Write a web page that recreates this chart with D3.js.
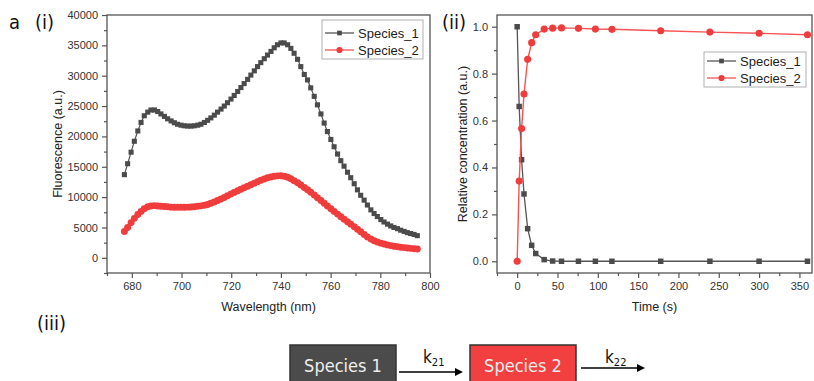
<!DOCTYPE html>
<html><head><meta charset="utf-8">
<script src="https://cdn.jsdelivr.net/npm/d3@7"></script>
<style>
body{margin:0;background:#fff}
svg{display:block;font-family:"Liberation Sans",Arial,sans-serif}
</style></head><body>
<svg id="fig" width="814" height="381"></svg>
<script>
// ---- (i) emission spectra ----
const wavelength = [677.0,678.3,679.7,681.0,682.4,683.7,685.0,686.4,687.7,689.1,690.4,691.7,693.1,694.4,695.8,697.1,698.4,699.8,701.1,702.5,703.8,705.1,706.5,707.8,709.2,710.5,711.8,713.2,714.5,715.9,717.2,718.5,719.9,721.2,722.6,723.9,725.2,726.6,727.9,729.3,730.6,731.9,733.3,734.6,736.0,737.3,738.6,740.0,741.3,742.7,744.0,745.3,746.7,748.0,749.4,750.7,752.0,753.4,754.7,756.1,757.4,758.7,760.1,761.4,762.8,764.1,765.4,766.8,768.1,769.5,770.8,772.1,773.5,774.8,776.2,777.5,778.8,780.2,781.5,782.9,784.2,785.5,786.9,788.2,789.6,790.9,792.2,793.6,794.9];
const species1Spectrum = [13700,15500,17400,19200,20900,22300,23400,24000,24350,24350,24100,23700,23300,22900,22550,22250,22000,21850,21750,21700,21700,21750,21850,22000,22300,22650,23050,23500,24000,24500,25000,25550,26150,26750,27400,28050,28700,29400,30100,30800,31500,32150,32800,33400,34000,34600,35100,35400,35400,35100,34500,33700,32700,31500,30200,29300,28000,26600,25200,23700,22200,20800,19500,18300,17100,16000,15100,14100,13200,12200,11200,10300,9500,8700,7900,7300,6800,6300,5900,5550,5250,5000,4800,4550,4350,4150,4000,3850,3650];
const species2Spectrum = [4350,5000,5800,6500,7150,7650,8100,8400,8550,8600,8550,8500,8450,8400,8350,8330,8320,8320,8330,8350,8380,8420,8480,8560,8660,8800,8980,9200,9430,9680,9950,10230,10500,10780,11050,11300,11550,11800,12050,12300,12550,12780,13000,13180,13330,13430,13500,13520,13450,13280,13020,12700,12350,11980,11600,11200,10800,10350,9900,9450,9000,8550,8100,7650,7200,6780,6350,5950,5550,5120,4700,4300,3850,3450,3100,2820,2600,2420,2270,2130,2010,1900,1820,1750,1680,1620,1560,1500,1450];
const wlTicks = [680,700,720,740,760,780,800];
const wlMinor = [670,690,710,730,750,770,790];
const fluorTicks = [0,5000,10000,15000,20000,25000,30000,35000,40000];
const fluorMinor = [-2500,2500,7500,12500,17500,22500,27500,32500,37500];

// ---- (ii) concentration kinetics ----
const time = [0,2.5,5.5,8.5,13,18,23,33.5,44,55,76,97,117.5,178,239,300,360];
const species1Conc = [1.0,0.66,0.433,0.287,0.139,0.068,0.033,0.007,0.001,0,0,0,0,0,0,0,0];
const species2Conc = [0,0.342,0.566,0.713,0.861,0.932,0.966,0.990,0.994,0.995,0.993,0.990,0.989,0.983,0.977,0.972,0.966];
const timeTicks = [0,50,100,150,200,250,300,350];
const timeMinor = [-25,25,75,125,175,225,275,325];
const concTicks = [0,0.2,0.4,0.6,0.8,1.0];
const concMinor = [0.1,0.3,0.5,0.7,0.9];

const seriesNames = ["Species_1","Species_2"];
const seriesColors = ["#4b4b4b","#f03c3c"];
const lineColors = ["#555555","#f45454"];

// ---- (iii) scheme ----
const schemeBoxes = ["Species 1","Species 2"];
const rateLabels = [["k","21"],["k","22"]];

const svg = d3.select("#fig");
const frameColor = "#555";

function panel(opts) {
  const {x0,x1,y0,y1,xDom,yDom,xt,xm,yt,ym,xFmt,yFmt,xTitle,yTitle,yTitleX} = opts;
  const x = d3.scaleLinear().domain(xDom).range([x0,x1]);
  const y = d3.scaleLinear().domain(yDom).range([y1,y0]);
  const g = svg.append("g");
  const style = sel => {
    sel.select(".domain").remove();
    sel.selectAll("line").attr("stroke",frameColor).attr("stroke-width",1.2);
    sel.selectAll("text").attr("fill","#333").style("font-size","11px");
  };
  g.append("g").attr("transform",`translate(0,${y1})`)
    .call(d3.axisBottom(x).tickValues(xm).tickSize(3).tickFormat("")).call(style);
  g.append("g").attr("transform",`translate(0,${y1})`)
    .call(d3.axisBottom(x).tickValues(xt).tickSize(5).tickPadding(4).tickFormat(xFmt)).call(style);
  g.append("g").attr("transform",`translate(${x0},0)`)
    .call(d3.axisLeft(y).tickValues(ym).tickSize(3).tickFormat("")).call(style);
  g.append("g").attr("transform",`translate(${x0},0)`)
    .call(d3.axisLeft(y).tickValues(yt).tickSize(5).tickPadding(4).tickFormat(yFmt)).call(style);
  g.append("rect").attr("x",x0).attr("y",y0).attr("width",x1-x0).attr("height",y1-y0)
    .attr("fill","none").attr("stroke",frameColor).attr("stroke-width",1.3);
  g.append("text").attr("x",(x0+x1)/2).attr("y",y1+38).attr("text-anchor","middle")
    .attr("fill","#222").style("font-size","12.5px").text(xTitle);
  g.append("text").attr("transform",`translate(${yTitleX},${(y0+y1)/2}) rotate(-90)`)
    .attr("text-anchor","middle").attr("fill","#222").style("font-size","12.5px").text(yTitle);
  return {x,y,g};
}

function series(p, xs, ys, i, lw, size) {
  const pts = xs.map((v,k)=>[v,ys[k]]);
  p.g.append("path").datum(pts)
    .attr("d",d3.line().x(d=>p.x(d[0])).y(d=>p.y(d[1])))
    .attr("fill","none").attr("stroke",lineColors[i]).attr("stroke-width",lw);
  const sym = d3.symbol().type(i===0?d3.symbolSquare:d3.symbolCircle).size(size[i]);
  p.g.append("g").selectAll("path").data(pts).join("path")
    .attr("transform",d=>`translate(${p.x(d[0])},${p.y(d[1])})`)
    .attr("d",sym).attr("fill",seriesColors[i]);
}

function legend(lx, ly, w, h, rowY, size) {
  const g = svg.append("g");
  g.append("rect").attr("x",lx).attr("y",ly).attr("width",w).attr("height",h)
    .attr("fill","#fff").attr("stroke","#b0b0b0").attr("stroke-width",1);
  seriesNames.forEach((name,i)=>{
    const yy = rowY[i];
    g.append("line").attr("x1",lx+3).attr("x2",lx+32).attr("y1",yy).attr("y2",yy)
      .attr("stroke",lineColors[i]).attr("stroke-width",1.3);
    g.append("path").attr("transform",`translate(${lx+17.5},${yy})`)
      .attr("d",d3.symbol().type(i===0?d3.symbolSquare:d3.symbolCircle).size(size[i])())
      .attr("fill",seriesColors[i]);
    g.append("text").attr("x",lx+36).attr("y",yy+4.5).attr("fill","#222")
      .style("font-size","13px").text(name);
  });
}

// panel (i)
const p1 = panel({x0:107,x1:430,y0:15,y1:273,xDom:[670,800],yDom:[-2500,40000],
  xt:wlTicks,xm:wlMinor,yt:fluorTicks,ym:fluorMinor,xFmt:d3.format("d"),yFmt:d3.format("d"),
  xTitle:"Wavelength (nm)",yTitle:"Fluorescence (a.u.)",yTitleX:62});
series(p1, wavelength, species1Spectrum, 0, 1.2, [26,0]);
series(p1, wavelength, species2Spectrum, 1, 1.2, [0,38]);
legend(322,20,101,39,[33,50],[22,30]);

// panel (ii)
const p2 = panel({x0:497,x1:812,y0:15,y1:273,xDom:[-25,365.6],yDom:[-0.05,1.05],
  xt:timeTicks,xm:timeMinor,yt:concTicks,ym:concMinor,xFmt:d3.format("d"),yFmt:d3.format(".1f"),
  xTitle:"Time (s)",yTitle:"Relative concentration (a.u.)",yTitleX:467});
series(p2, time, species1Conc, 0, 1.3, [30,0]);
series(p2, time, species2Conc, 1, 1.4, [0,40]);
legend(704,52,102,35,[61,78],[22,30]);

// panel labels
const lab = svg.append("g").attr("fill","#111")
  .style("font-family",'"Liberation Sans Narrow","DejaVu Sans Condensed","Open Sans",sans-serif')
  .style("font-size","20px");
lab.append("text").attr("x",9).attr("y",29).text("a");
lab.append("text").attr("x",35).attr("y",29).text("(i)");
lab.append("text").attr("x",442).attr("y",29).text("(ii)");
lab.append("text").attr("x",37).attr("y",330).text("(iii)");

// reaction scheme
const sg = svg.append("g")
  .style("font-family",'"Liberation Sans Narrow","DejaVu Sans Condensed","Open Sans",sans-serif');
const boxX = [290,470], boxFill = ["#4b4b4b","#f23f3f"];
schemeBoxes.forEach((t,i)=>{
  sg.append("rect").attr("x",boxX[i]).attr("y",345).attr("width",106).attr("height",44)
    .attr("fill",boxFill[i]).attr("stroke","#333").attr("stroke-width",1.5);
  sg.append("text").attr("x",boxX[i]+53).attr("y",372).attr("text-anchor","middle")
    .attr("fill","#eeeeee").style("font-size","18px").text(t);
});
const arrows = [[399,463,372],[581,645,368]];
arrows.forEach((a,i)=>{
  sg.append("line").attr("x1",a[0]).attr("x2",a[1]-6).attr("y1",a[2]).attr("y2",a[2])
    .attr("stroke","#000").attr("stroke-width",1.5);
  sg.append("path").attr("d",`M${a[1]},${a[2]} L${a[1]-8},${a[2]-4} L${a[1]-8},${a[2]+4} Z`).attr("fill","#000");
  const tx = sg.append("text").attr("x",a[0]+24).attr("y",363).attr("fill","#111").style("font-size","17px");
  tx.append("tspan").text(rateLabels[i][0]);
  tx.append("tspan").attr("dy",3).style("font-size","11px").text(rateLabels[i][1]);
});
</script>
</body></html>
